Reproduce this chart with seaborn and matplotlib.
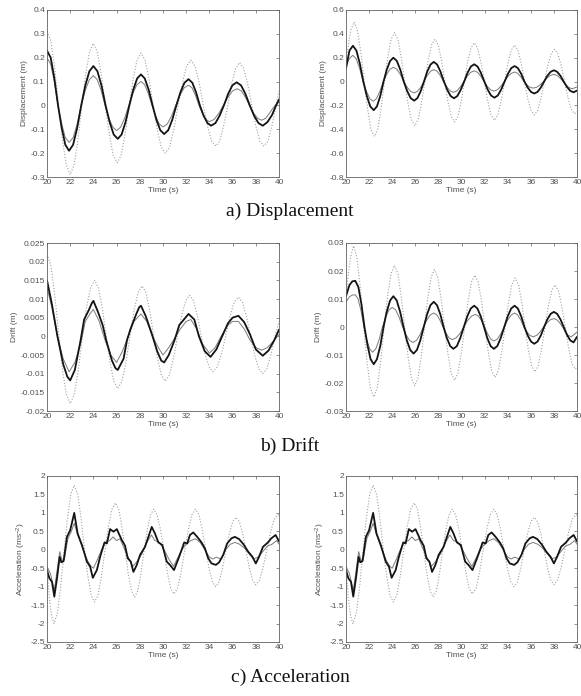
import matplotlib
matplotlib.use("Agg")
import matplotlib.pyplot as plt
import seaborn as sns
import pandas as pd
from matplotlib.ticker import FuncFormatter, MultipleLocator

# ---------------- DATA ----------------
# a) Displacement, left : uncontrolled (dotted), controlled B (thin grey), controlled A (thick black)
t_dl_unc = [20.0, 20.33, 20.67, 21.0, 21.33, 21.67, 22.0, 22.33, 22.67, 23.0, 23.33, 23.67, 24.0, 24.34, 24.68, 25.03, 25.37, 25.71, 26.05, 26.39, 26.73, 27.08, 27.42, 27.76, 28.1, 28.45, 28.8, 29.15, 29.5, 29.85, 30.2, 30.57, 30.93, 31.3, 31.67, 32.03, 32.4, 32.76, 33.12, 33.48, 33.83, 34.19, 34.55, 34.89, 35.23, 35.58, 35.92, 36.26, 36.6, 36.95, 37.3, 37.65, 38.0, 38.35, 38.7, 39.05, 39.4, 39.75, 40.0]
y_dl_unc = [0.31, 0.27, 0.155, 0.0, -0.145, -0.25, -0.29, -0.25, -0.145, 0.0, 0.13, 0.225, 0.26, 0.225, 0.13, 0.0, -0.12, -0.21, -0.24, -0.21, -0.12, 0.0, 0.11, 0.19, 0.22, 0.19, 0.11, 0.0, -0.10, -0.175, -0.20, -0.175, -0.10, 0.0, 0.095, 0.165, 0.19, 0.165, 0.095, 0.0, -0.085, -0.15, -0.17, -0.15, -0.085, 0.0, 0.09, 0.155, 0.18, 0.155, 0.09, 0.0, -0.085, -0.15, -0.17, -0.15, -0.085, 0.0, 0.06]
t_dl_a = [20.0, 20.32, 20.63, 20.95, 21.27, 21.58, 21.9, 22.25, 22.6, 22.95, 23.3, 23.65, 24.0, 24.35, 24.7, 25.05, 25.4, 25.75, 26.1, 26.43, 26.77, 27.1, 27.43, 27.77, 28.1, 28.43, 28.77, 29.1, 29.43, 29.77, 30.1, 30.45, 30.8, 31.15, 31.5, 31.85, 32.2, 32.53, 32.85, 33.18, 33.5, 33.83, 34.15, 34.52, 34.88, 35.25, 35.62, 35.98, 36.35, 36.73, 37.1, 37.48, 37.85, 38.23, 38.6, 39.0, 39.4, 39.75, 40.0]
y_dl_a = [0.23, 0.20, 0.115, 0.0, -0.095, -0.165, -0.19, -0.165, -0.095, 0.0, 0.083, 0.143, 0.165, 0.143, 0.083, 0.0, -0.07, -0.122, -0.14, -0.122, -0.07, 0.0, 0.065, 0.113, 0.13, 0.113, 0.065, 0.0, -0.06, -0.104, -0.12, -0.104, -0.06, 0.0, 0.055, 0.095, 0.11, 0.095, 0.055, 0.0, -0.043, -0.074, -0.085, -0.074, -0.043, 0.0, 0.049, 0.084, 0.097, 0.084, 0.049, 0.0, -0.043, -0.074, -0.085, -0.07, -0.04, 0.0, 0.025]
t_dl_b = [20.0, 20.32, 20.63, 20.95, 21.27, 21.58, 21.9, 22.25, 22.6, 22.95, 23.3, 23.65, 24.0, 24.33, 24.67, 25.0, 25.33, 25.67, 26.0, 26.35, 26.7, 27.05, 27.4, 27.75, 28.1, 28.42, 28.73, 29.05, 29.37, 29.68, 30.0, 30.37, 30.73, 31.1, 31.47, 31.83, 32.2, 32.5, 32.8, 33.1, 33.4, 33.7, 34.0, 34.4, 34.8, 35.2, 35.6, 36.0, 36.4, 36.75, 37.1, 37.45, 37.8, 38.15, 38.5, 38.85, 39.2, 39.65, 40.0]
y_dl_b = [0.20, 0.173, 0.10, 0.0, -0.078, -0.135, -0.155, -0.135, -0.078, 0.0, 0.063, 0.108, 0.125, 0.108, 0.063, 0.0, -0.053, -0.091, -0.105, -0.091, -0.053, 0.0, 0.05, 0.087, 0.10, 0.087, 0.05, 0.0, -0.045, -0.078, -0.09, -0.078, -0.045, 0.0, 0.043, 0.074, 0.085, 0.074, 0.043, 0.0, -0.034, -0.059, -0.068, -0.059, -0.034, 0.0, 0.035, 0.061, 0.07, 0.061, 0.035, 0.0, -0.031, -0.054, -0.062, -0.054, -0.031, 0.0, 0.015]

# a) Displacement, right
t_dr_unc = [20.0, 20.12, 20.41, 20.7, 20.99, 21.28, 21.58, 21.87, 22.16, 22.45, 22.74, 23.03, 23.33, 23.62, 23.91, 24.2, 24.49, 24.78, 25.08, 25.37, 25.66, 25.95, 26.24, 26.53, 26.83, 27.12, 27.41, 27.7, 27.98, 28.27, 28.55, 28.83, 29.12, 29.4, 29.68, 29.97, 30.25, 30.53, 30.82, 31.1, 31.39, 31.68, 31.98, 32.27, 32.56, 32.85, 33.14, 33.43, 33.73, 34.02, 34.31, 34.6, 34.88, 35.17, 35.45, 35.73, 36.02, 36.3, 36.59, 36.88, 37.18, 37.47, 37.76, 38.05, 38.34, 38.63, 38.93, 39.22, 39.51, 39.8, 40.0]
y_dr_unc = [0.17, 0.25, 0.43, 0.50, 0.43, 0.25, 0.0, -0.23, -0.40, -0.46, -0.40, -0.23, 0.0, 0.205, 0.355, 0.41, 0.355, 0.205, 0.0, -0.185, -0.32, -0.37, -0.32, -0.185, 0.0, 0.178, 0.307, 0.355, 0.307, 0.178, 0.0, -0.17, -0.294, -0.34, -0.294, -0.17, 0.0, 0.163, 0.281, 0.325, 0.281, 0.163, 0.0, -0.163, -0.281, -0.325, -0.281, -0.163, 0.0, 0.153, 0.264, 0.305, 0.264, 0.153, 0.0, -0.14, -0.242, -0.28, -0.242, -0.14, 0.0, 0.135, 0.234, 0.27, 0.234, 0.135, 0.0, -0.135, -0.234, -0.27, -0.25]
t_dr_a = [20.0, 20.3, 20.6, 20.9, 21.2, 21.5, 21.8, 22.1, 22.4, 22.68, 22.97, 23.25, 23.53, 23.82, 24.1, 24.4, 24.7, 25.0, 25.3, 25.6, 25.9, 26.18, 26.47, 26.75, 27.03, 27.32, 27.6, 27.89, 28.18, 28.48, 28.77, 29.06, 29.35, 29.64, 29.93, 30.23, 30.52, 30.81, 31.1, 31.39, 31.68, 31.98, 32.27, 32.56, 32.85, 33.14, 33.43, 33.73, 34.02, 34.31, 34.6, 34.88, 35.17, 35.45, 35.73, 36.02, 36.3, 36.58, 36.87, 37.15, 37.43, 37.72, 38.0, 38.28, 38.57, 38.85, 39.13, 39.42, 39.7, 40.0]
y_dr_a = [0.11, 0.26, 0.30, 0.26, 0.15, 0.0, -0.12, -0.208, -0.24, -0.208, -0.12, 0.0, 0.10, 0.173, 0.20, 0.173, 0.10, 0.0, -0.08, -0.139, -0.16, -0.139, -0.08, 0.0, 0.083, 0.143, 0.165, 0.143, 0.083, 0.0, -0.07, -0.121, -0.14, -0.121, -0.07, 0.0, 0.073, 0.126, 0.145, 0.126, 0.073, 0.0, -0.068, -0.117, -0.135, -0.117, -0.068, 0.0, 0.065, 0.113, 0.13, 0.113, 0.065, 0.0, -0.05, -0.087, -0.10, -0.087, -0.05, 0.0, 0.048, 0.082, 0.095, 0.082, 0.048, 0.0, -0.045, -0.078, -0.09, -0.075]
t_dr_b = [20.0, 20.3, 20.6, 20.89, 21.18, 21.48, 21.77, 22.06, 22.35, 22.64, 22.93, 23.23, 23.52, 23.81, 24.1, 24.4, 24.7, 25.0, 25.3, 25.6, 25.9, 26.18, 26.47, 26.75, 27.03, 27.32, 27.6, 27.88, 28.17, 28.45, 28.73, 29.02, 29.3, 29.6, 29.9, 30.2, 30.5, 30.8, 31.1, 31.38, 31.67, 31.95, 32.23, 32.52, 32.8, 33.1, 33.4, 33.7, 34.0, 34.3, 34.6, 34.87, 35.13, 35.4, 35.67, 35.93, 36.2, 36.5, 36.8, 37.1, 37.4, 37.7, 38.0, 38.27, 38.53, 38.8, 39.07, 39.33, 39.6, 40.0]
y_dr_b = [0.13, 0.195, 0.22, 0.19, 0.11, 0.0, -0.083, -0.143, -0.165, -0.143, -0.083, 0.0, 0.06, 0.104, 0.12, 0.104, 0.06, 0.0, -0.048, -0.082, -0.095, -0.082, -0.048, 0.0, 0.05, 0.087, 0.10, 0.087, 0.05, 0.0, -0.045, -0.078, -0.09, -0.078, -0.045, 0.0, 0.045, 0.078, 0.09, 0.078, 0.045, 0.0, -0.04, -0.069, -0.08, -0.069, -0.04, 0.0, 0.04, 0.069, 0.08, 0.069, 0.04, 0.0, -0.028, -0.048, -0.055, -0.048, -0.028, 0.0, 0.03, 0.052, 0.06, 0.052, 0.03, 0.0, -0.03, -0.052, -0.06, -0.045]

# b) Drift, left
t_fl_unc = [20.0, 20.33, 20.67, 21.0, 21.33, 21.67, 22.0, 22.35, 22.7, 23.05, 23.4, 23.75, 24.1, 24.43, 24.77, 25.1, 25.43, 25.77, 26.1, 26.45, 26.8, 27.15, 27.5, 27.85, 28.2, 28.53, 28.87, 29.2, 29.53, 29.87, 30.2, 30.55, 30.9, 31.25, 31.6, 31.95, 32.3, 32.63, 32.97, 33.3, 33.63, 33.97, 34.3, 34.67, 35.03, 35.4, 35.77, 36.13, 36.5, 36.85, 37.2, 37.55, 37.9, 38.25, 38.6, 38.95, 39.3, 39.65, 40.0]
y_fl_unc = [0.022, 0.019, 0.011, 0.001, -0.009, -0.0156, -0.018, -0.0156, -0.009, 0.0, 0.0075, 0.013, 0.015, 0.013, 0.0075, 0.0, -0.007, -0.0121, -0.014, -0.0121, -0.007, 0.0, 0.0068, 0.0117, 0.0135, 0.0117, 0.0068, 0.0, -0.006, -0.0104, -0.012, -0.0104, -0.006, 0.0, 0.0055, 0.0095, 0.011, 0.0095, 0.0055, 0.0, -0.0048, -0.0082, -0.0095, -0.0082, -0.0048, 0.0, 0.0053, 0.0091, 0.0105, 0.0091, 0.0053, 0.0, -0.005, -0.0087, -0.010, -0.0087, -0.005, 0.0, 0.004]
t_fl_a = [20.0, 20.4, 20.9, 21.4, 21.75, 22.0, 22.4, 22.9, 23.2, 23.6, 23.85, 24.0, 24.4, 24.8, 25.1, 25.6, 25.9, 26.1, 26.6, 26.9, 27.2, 27.7, 27.95, 28.1, 28.5, 29.0, 29.5, 29.85, 30.1, 30.5, 31.0, 31.4, 31.8, 32.2, 32.7, 33.1, 33.6, 34.1, 34.6, 35.1, 35.6, 36.0, 36.5, 37.0, 37.5, 38.0, 38.6, 39.1, 39.6, 40.0]
y_fl_a = [0.015, 0.009, 0.0, -0.0075, -0.0108, -0.0118, -0.009, -0.001, 0.0045, 0.007, 0.0088, 0.0095, 0.0065, 0.003, -0.001, -0.0065, -0.0085, -0.009, -0.006, -0.001, 0.002, 0.006, 0.0078, 0.0082, 0.0055, 0.001, -0.004, -0.0065, -0.007, -0.005, -0.001, 0.003, 0.0045, 0.006, 0.0045, 0.0, -0.004, -0.0055, -0.0035, 0.0, 0.0035, 0.005, 0.0055, 0.0038, 0.0005, -0.0035, -0.0052, -0.0038, -0.001, 0.0018]
t_fl_b = [20.0, 20.4, 20.9, 21.4, 21.9, 22.4, 22.9, 23.3, 23.7, 24.0, 24.5, 25.0, 25.5, 26.0, 26.5, 27.0, 27.5, 28.1, 28.6, 29.1, 29.6, 30.0, 30.5, 31.0, 31.5, 32.0, 32.4, 32.9, 33.4, 34.0, 34.5, 35.0, 35.6, 36.0, 36.5, 37.0, 37.5, 38.0, 38.5, 39.0, 39.6, 40.0]
y_fl_b = [0.013, 0.008, 0.0, -0.006, -0.0095, -0.007, -0.002, 0.004, 0.006, 0.0072, 0.004, -0.001, -0.005, -0.007, -0.004, 0.0, 0.004, 0.006, 0.004, 0.0, -0.003, -0.005, -0.003, -0.0005, 0.002, 0.004, 0.0045, 0.002, -0.002, -0.0045, -0.003, 0.0, 0.003, 0.004, 0.004, 0.002, -0.001, -0.003, -0.0037, -0.003, -0.001, 0.0005]

# b) Drift, right
t_fr_unc = [20.0, 20.2, 20.4, 20.65, 20.94, 21.23, 21.53, 21.82, 22.11, 22.4, 22.7, 23.0, 23.3, 23.6, 23.9, 24.2, 24.49, 24.78, 25.08, 25.37, 25.66, 25.95, 26.23, 26.52, 26.8, 27.08, 27.37, 27.65, 27.94, 28.23, 28.53, 28.82, 29.11, 29.4, 29.69, 29.98, 30.28, 30.57, 30.86, 31.15, 31.44, 31.73, 32.03, 32.32, 32.61, 32.9, 33.19, 33.48, 33.78, 34.07, 34.36, 34.65, 34.93, 35.22, 35.5, 35.78, 36.07, 36.35, 36.64, 36.93, 37.23, 37.52, 37.81, 38.1, 38.39, 38.68, 38.98, 39.27, 39.56, 39.85, 40.0]
y_fr_unc = [0.010, 0.019, 0.025, 0.029, 0.025, 0.0145, 0.0, -0.0125, -0.0217, -0.025, -0.0217, -0.0125, 0.0, 0.011, 0.019, 0.022, 0.019, 0.011, 0.0, -0.0105, -0.0182, -0.021, -0.0182, -0.0105, 0.0, 0.0103, 0.0178, 0.0205, 0.0178, 0.0103, 0.0, -0.0095, -0.0165, -0.019, -0.0165, -0.0095, 0.0, 0.0093, 0.016, 0.0185, 0.016, 0.0093, 0.0, -0.009, -0.0156, -0.018, -0.0156, -0.009, 0.0, 0.0088, 0.0152, 0.0175, 0.0152, 0.0088, 0.0, -0.008, -0.0139, -0.016, -0.0139, -0.008, 0.0, 0.0075, 0.013, 0.015, 0.013, 0.0075, 0.0, -0.0075, -0.013, -0.015, -0.0145]
t_fr_a = [20.0, 20.3, 20.55, 20.8, 21.07, 21.33, 21.6, 21.87, 22.13, 22.4, 22.68, 22.97, 23.25, 23.53, 23.82, 24.1, 24.39, 24.68, 24.98, 25.27, 25.56, 25.85, 26.14, 26.43, 26.73, 27.02, 27.31, 27.6, 27.88, 28.17, 28.45, 28.73, 29.02, 29.3, 29.6, 29.9, 30.2, 30.5, 30.8, 31.1, 31.38, 31.67, 31.95, 32.23, 32.52, 32.8, 33.1, 33.4, 33.7, 34.0, 34.3, 34.6, 34.88, 35.17, 35.45, 35.73, 36.02, 36.3, 36.58, 36.87, 37.15, 37.43, 37.72, 38.0, 38.28, 38.57, 38.85, 39.13, 39.42, 39.7, 40.0]
y_fr_a = [0.011, 0.015, 0.0163, 0.0165, 0.0143, 0.0083, 0.0, -0.0067, -0.0115, -0.0133, -0.0115, -0.0067, 0.0, 0.0055, 0.0095, 0.011, 0.0095, 0.0055, 0.0, -0.0048, -0.0082, -0.0095, -0.0082, -0.0048, 0.0, 0.0045, 0.0078, 0.009, 0.0078, 0.0045, 0.0, -0.0039, -0.0068, -0.0078, -0.0068, -0.0039, 0.0, 0.0038, 0.0066, 0.0076, 0.0066, 0.0038, 0.0, -0.0039, -0.0068, -0.0078, -0.0068, -0.0039, 0.0, 0.0038, 0.0066, 0.0076, 0.0066, 0.0038, 0.0, -0.003, -0.0052, -0.006, -0.0052, -0.003, 0.0, 0.0027, 0.0047, 0.0054, 0.0047, 0.0027, 0.0, -0.0028, -0.0048, -0.0055, -0.0035]
t_fr_b = [20.0, 20.3, 20.55, 20.8, 21.05, 21.3, 21.55, 21.8, 22.05, 22.3, 22.58, 22.87, 23.15, 23.43, 23.72, 24.0, 24.3, 24.6, 24.9, 25.2, 25.5, 25.8, 26.1, 26.4, 26.7, 27.0, 27.3, 27.6, 27.87, 28.13, 28.4, 28.67, 28.93, 29.2, 29.53, 29.87, 30.2, 30.53, 30.87, 31.2, 31.47, 31.73, 32.0, 32.27, 32.53, 32.8, 33.1, 33.4, 33.7, 34.0, 34.3, 34.6, 34.87, 35.13, 35.4, 35.67, 35.93, 36.2, 36.5, 36.8, 37.1, 37.4, 37.7, 38.0, 38.25, 38.5, 38.75, 39.0, 39.25, 39.5, 40.0]
y_fr_b = [0.009, 0.0108, 0.0114, 0.0115, 0.010, 0.0058, 0.0, -0.0045, -0.0078, -0.009, -0.0078, -0.0045, 0.0, 0.0035, 0.0061, 0.007, 0.0061, 0.0035, 0.0, -0.0028, -0.0048, -0.0055, -0.0048, -0.0028, 0.0, 0.0025, 0.0043, 0.005, 0.0043, 0.0025, 0.0, -0.0023, -0.0039, -0.0045, -0.0039, -0.0023, 0.0, 0.0023, 0.0039, 0.0045, 0.0039, 0.0023, 0.0, -0.0025, -0.0043, -0.005, -0.0043, -0.0025, 0.0, 0.0025, 0.0043, 0.005, 0.0043, 0.0025, 0.0, -0.0018, -0.003, -0.0035, -0.003, -0.0018, 0.0, 0.0015, 0.0026, 0.003, 0.0026, 0.0015, 0.0, -0.0018, -0.003, -0.0035, -0.0018]

# c) Acceleration (same record shown in both panels)
t_acc_unc = [20.0, 20.2, 20.4, 20.6, 20.89, 21.18, 21.48, 21.77, 22.06, 22.35, 22.64, 22.93, 23.23, 23.52, 23.81, 24.1, 24.4, 24.7, 25.0, 25.3, 25.6, 25.9, 26.18, 26.45, 26.73, 27.0, 27.28, 27.55, 27.83, 28.1, 28.38, 28.65, 28.93, 29.2, 29.49, 29.78, 30.08, 30.37, 30.66, 30.95, 31.26, 31.57, 31.88, 32.18, 32.49, 32.8, 33.09, 33.38, 33.68, 33.97, 34.26, 34.55, 34.84, 35.13, 35.43, 35.72, 36.01, 36.3, 36.58, 36.87, 37.15, 37.43, 37.72, 38.0, 38.32, 38.63, 38.95, 39.27, 39.58, 39.9, 40.0]
y_acc_unc = [-0.5, -1.3, -1.8, -2.0, -1.73, -1.0, 0.0, 0.875, 1.52, 1.75, 1.52, 0.875, 0.0, -0.71, -1.23, -1.42, -1.23, -0.71, 0.0, 0.635, 1.1, 1.27, 1.1, 0.635, 0.0, -0.64, -1.11, -1.28, -1.11, -0.64, 0.0, 0.55, 0.95, 1.1, 0.95, 0.55, 0.0, -0.6, -1.04, -1.2, -1.04, -0.6, 0.0, 0.55, 0.95, 1.1, 0.95, 0.55, 0.0, -0.5, -0.87, -1.0, -0.87, -0.5, 0.0, 0.44, 0.76, 0.88, 0.76, 0.44, 0.0, -0.475, -0.82, -0.95, -0.82, -0.475, 0.0, 0.475, 0.82, 0.95, 0.94]
t_acc_a = [20.0, 20.2, 20.43, 20.63, 20.86, 21.09, 21.23, 21.43, 21.72, 22.0, 22.35, 22.64, 23.01, 23.44, 23.72, 23.95, 24.3, 24.58, 24.96, 25.16, 25.44, 25.73, 26.02, 26.25, 26.45, 26.73, 26.96, 27.22, 27.45, 27.74, 28.02, 28.45, 28.74, 29.03, 29.31, 29.6, 29.94, 30.32, 30.6, 30.95, 31.32, 31.6, 31.83, 32.09, 32.32, 32.61, 32.95, 33.32, 33.61, 33.9, 34.18, 34.56, 34.84, 35.19, 35.53, 35.9, 36.19, 36.56, 36.96, 37.34, 37.71, 38.0, 38.28, 38.62, 39.05, 39.34, 39.71, 40.0]
y_acc_a = [-0.55, -0.77, -0.87, -1.27, -0.78, -0.19, -0.34, -0.31, 0.35, 0.53, 1.0, 0.44, 0.13, -0.32, -0.46, -0.76, -0.55, -0.19, 0.2, 0.17, 0.56, 0.49, 0.56, 0.4, 0.26, 0.11, -0.23, -0.32, -0.6, -0.41, -0.14, 0.08, 0.35, 0.62, 0.44, 0.2, 0.13, -0.32, -0.41, -0.55, -0.25, -0.01, 0.2, 0.17, 0.4, 0.47, 0.35, 0.2, 0.04, -0.23, -0.37, -0.41, -0.34, -0.14, 0.17, 0.31, 0.35, 0.29, 0.14, -0.05, -0.19, -0.37, -0.19, 0.08, 0.2, 0.31, 0.4, 0.23]
t_acc_b = [20.0, 20.3, 20.63, 20.9, 21.1, 21.3, 21.5, 21.8, 22.1, 22.35, 22.6, 23.0, 23.5, 23.8, 24.0, 24.3, 24.7, 25.0, 25.4, 25.7, 26.0, 26.3, 26.7, 27.0, 27.4, 27.8, 28.2, 28.6, 29.0, 29.3, 29.7, 30.1, 30.5, 30.9, 31.3, 31.6, 32.0, 32.4, 32.8, 33.2, 33.6, 34.0, 34.3, 34.6, 35.0, 35.4, 35.8, 36.2, 36.6, 37.0, 37.4, 37.8, 38.2, 38.6, 39.0, 39.4, 39.8, 40.0]
y_acc_b = [-0.45, -0.65, -1.1, -0.5, -0.05, -0.3, -0.25, 0.3, 0.5, 0.72, 0.45, 0.1, -0.3, -0.45, -0.5, -0.3, 0.0, 0.2, 0.25, 0.35, 0.25, 0.3, 0.0, -0.2, -0.45, -0.3, -0.1, 0.2, 0.4, 0.25, 0.2, 0.0, -0.25, -0.45, -0.2, 0.0, 0.15, 0.25, 0.3, 0.2, 0.0, -0.2, -0.25, -0.2, -0.25, 0.0, 0.15, 0.2, 0.15, 0.05, -0.1, -0.25, -0.2, -0.05, 0.1, 0.15, 0.25, 0.15]

x_ticks = [20, 22, 24, 26, 28, 30, 32, 34, 36, 38, 40]
captions = ["a) Displacement", "b) Drift", "c) Acceleration"]
y_labels = ["Displacement (m)", "Drift (m)", "Acceleration (ms$^{-2}$)"]

panels = [
    (0, 0, [(t_dl_unc, y_dl_unc), (t_dl_b, y_dl_b), (t_dl_a, y_dl_a)], (-0.3, 0.4), 0.1, y_labels[0]),
    (0, 1, [(t_dr_unc, y_dr_unc), (t_dr_b, y_dr_b), (t_dr_a, y_dr_a)], (-0.8, 0.6), 0.2, y_labels[0]),
    (1, 0, [(t_fl_unc, y_fl_unc), (t_fl_b, y_fl_b), (t_fl_a, y_fl_a)], (-0.02, 0.025), 0.005, y_labels[1]),
    (1, 1, [(t_fr_unc, y_fr_unc), (t_fr_b, y_fr_b), (t_fr_a, y_fr_a)], (-0.03, 0.03), 0.01, y_labels[1]),
    (2, 0, [(t_acc_unc, y_acc_unc), (t_acc_b, y_acc_b), (t_acc_a, y_acc_a)], (-2.5, 2.0), 0.5, y_labels[2]),
    (2, 1, [(t_acc_unc, y_acc_unc), (t_acc_b, y_acc_b), (t_acc_a, y_acc_a)], (-2.5, 2.0), 0.5, y_labels[2]),
]

# ---------------- STYLE ----------------
sns.set_style("white")
plt.rcParams['font.family'] = ['Liberation Sans', 'DejaVu Sans']
plt.rcParams['axes.unicode_minus'] = False
plt.rcParams['mathtext.fontset'] = 'custom'
plt.rcParams['mathtext.rm'] = 'Liberation Sans'
plt.rcParams['mathtext.it'] = 'Liberation Sans'

W, H = 581, 696
fig = plt.figure(figsize=(W / 100, H / 100), dpi=100)
fig.patch.set_facecolor('white')

col_x = [(47, 279), (346, 577)]
row_y = [(10, 177), (243, 411), (476, 642)]
cap_y = [211, 446, 677]

styles = [
    dict(color='#a0a0a0', linewidth=0.8, linestyle=(0, (1, 1.6))),
    dict(color='#7a7a7a', linewidth=0.7, linestyle='-'),
    dict(color='#141414', linewidth=1.3, linestyle='-'),
]

txt_col = '#505050'
fmt = FuncFormatter(lambda v, p: ('%g' % round(v, 6)))

for (r, c, series, ylim, ystep, ylab) in panels:
    x0, x1 = col_x[c]
    y0, y1 = row_y[r]
    ax = fig.add_axes([x0 / W, 1 - y1 / H, (x1 - x0) / W, (y1 - y0) / H])
    for (tt, yy), st in zip(series, styles):
        df = pd.DataFrame({'t': tt, 'v': yy})
        sns.lineplot(data=df, x='t', y='v', ax=ax, estimator=None, sort=False, **st)
    ax.set_xlim(20, 40)
    ax.set_ylim(*ylim)
    ax.set_xticks(x_ticks)
    ax.yaxis.set_major_locator(MultipleLocator(ystep))
    ax.yaxis.set_major_formatter(fmt)
    ax.xaxis.set_major_formatter(fmt)
    ax.tick_params(direction='in', length=2.5, width=0.5, colors='#606060',
                   labelsize=6, labelcolor=txt_col, top=True, right=True, pad=1.5)
    for sp in ax.spines.values():
        sp.set_visible(True)
        sp.set_color('#606060')
        sp.set_linewidth(0.6)
    ax.set_xlabel('Time (s)', fontsize=6, color=txt_col, labelpad=1)
    ax.set_ylabel(ylab, fontsize=6, color=txt_col, labelpad=2)
    ax.set_facecolor('white')

for cap, cy in zip(captions, cap_y):
    fig.text(290 / W, 1 - cy / H, cap, ha='center', va='center',
             fontsize=14, family=['Liberation Serif', 'DejaVu Serif'], color='#111111')

fig.savefig('out.png', dpi=100, facecolor='white')
